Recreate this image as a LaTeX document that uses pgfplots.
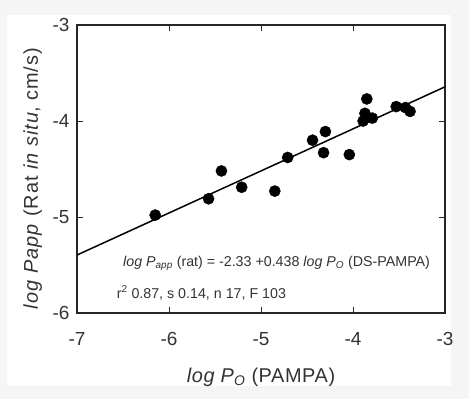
\documentclass[border=0pt]{standalone}
\usepackage{fontspec}
\setmainfont{Liberation Sans}
\newfontfamily\labfont[LetterSpace=5]{Liberation Sans}
\newfontfamily\xlabfont[LetterSpace=3]{Liberation Sans}
\usepackage{pgfplots}
\pgfplotsset{compat=1.18}
\begin{document}
\begin{tikzpicture}[x=1bp,y=1bp]
\fill[gray!8] (0,0) rectangle (469,399);
\fill[white] (7,13) rectangle (451,384);
\begin{axis}[at={(77bp,86bp)}, anchor=south west, scale only axis,
  width=368bp, height=288bp,
  xmin=-7, xmax=-3, ymin=-6, ymax=-3,
  xtick={-7,-6,-5,-4,-3}, ytick={-6,-5,-4,-3},
  tick align=inside, major tick length=6bp,
  tick style={black!85, line width=0.9bp},
  axis line style={black!85, line width=1.4bp},
  ticklabel style={font=\fontsize{19}{21}\selectfont, text=black!80},
  xticklabel style={yshift=-16bp},
  yticklabel style={xshift=-4bp},
  /pgf/number format/assume math mode=true,
  xlabel={\xlabfont\textit{log P\textsubscript{O}} (PAMPA)},
  ylabel={\labfont\textit{log Papp} (Rat \textit{in situ}, cm/s)},
  label style={font=\fontsize{20}{22}\selectfont, text=black!80},
  xlabel style={at={(axis description cs:0.5,-0.222)}, anchor=center},
  ylabel style={at={(axis description cs:-0.12,0.467)}, anchor=center},
  clip=false]
\addplot[black, line width=1.5bp, no marks] coordinates {(-7,-5.396) (-3,-3.644)};
\addplot[only marks, mark=*, mark size=5.6bp, mark options={fill=black, draw=black}] coordinates {
(-5.43,-4.52) (-5.21,-4.69) (-4.85,-4.73) (-4.71,-4.38) (-4.44,-4.20)
(-4.30,-4.11) (-4.32,-4.33) (-4.04,-4.35) (-3.85,-3.77) (-3.87,-3.92)
(-3.89,-4.00) (-3.79,-3.97) (-3.53,-3.85) (-3.43,-3.86) (-3.38,-3.90)
(-5.57,-4.81) (-6.15,-4.98)};
\node[anchor=west, inner sep=0pt, font=\fontsize{14.3}{16}\selectfont, text=black!80] at (axis cs:-6.5,-5.48)
  {\textit{log P\textsubscript{app}} (rat) = -2.33 +0.438 \textit{log P\textsubscript{O}} (DS-PAMPA)};
\node[anchor=west, inner sep=0pt, font=\fontsize{14.3}{16}\selectfont, text=black!80] at (axis cs:-6.57,-5.79)
  {r\textsuperscript{2} 0.87, s 0.14, n 17, F 103};
\end{axis}
\end{tikzpicture}
\end{document}
